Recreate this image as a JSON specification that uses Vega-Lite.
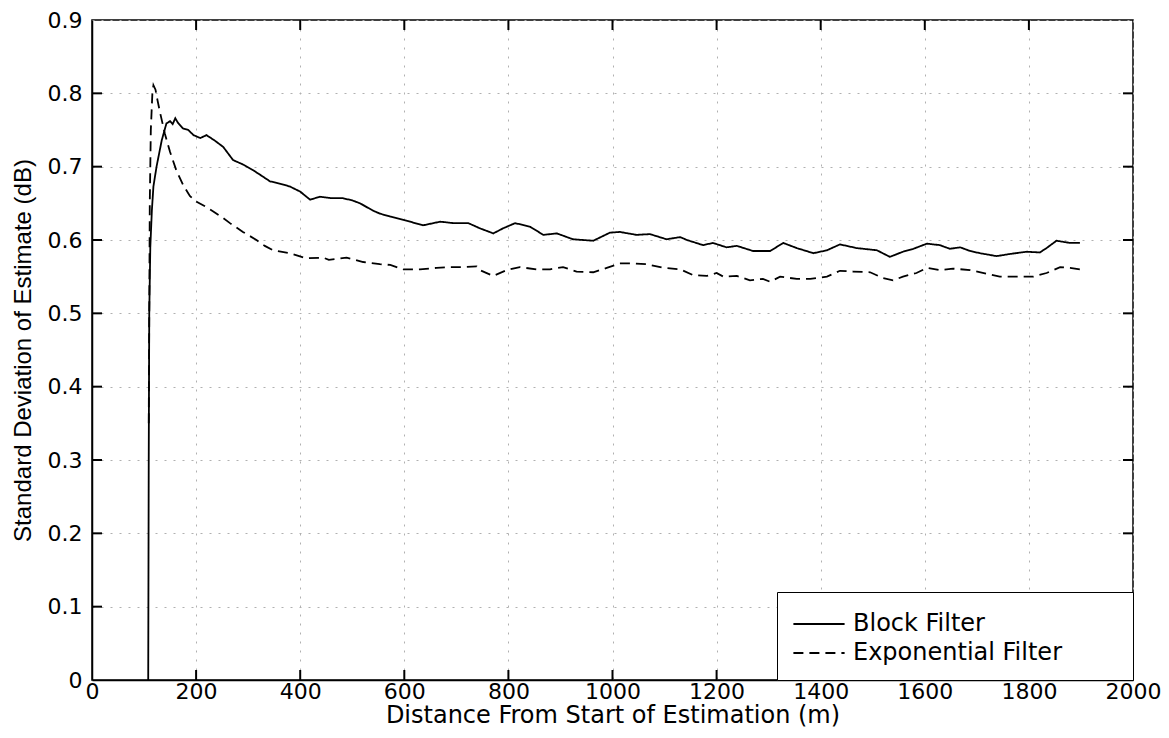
{
  "$schema": "https://vega.github.io/schema/vega-lite/v6.json",
  "width": 1041,
  "height": 660,
  "autosize": "none",
  "padding": {"left": 92, "top": 20, "right": 36, "bottom": 58},
  "background": "white",
  "datasets": {
    "xticks": [{"v":200},{"v":400},{"v":600},{"v":800},{"v":1000},{"v":1200},{"v":1400},{"v":1600},{"v":1800}],
    "yticks": [{"v":0.1},{"v":0.2},{"v":0.3},{"v":0.4},{"v":0.5},{"v":0.6},{"v":0.7},{"v":0.8}],
    "curves": [
    {"x":108,"y":0,"s":"Block Filter"},{"x":109,"y":0.3,"s":"Block Filter"},{"x":110,"y":0.5,"s":"Block Filter"},{"x":112,"y":0.59,"s":"Block Filter"},{"x":115,"y":0.64,"s":"Block Filter"},{"x":118,"y":0.673,"s":"Block Filter"},{"x":124,"y":0.70,"s":"Block Filter"},{"x":134,"y":0.736,"s":"Block Filter"},{"x":143,"y":0.759,"s":"Block Filter"},{"x":150,"y":0.762,"s":"Block Filter"},{"x":155,"y":0.758,"s":"Block Filter"},{"x":160,"y":0.766,"s":"Block Filter"},{"x":165,"y":0.760,"s":"Block Filter"},{"x":175,"y":0.752,"s":"Block Filter"},{"x":185,"y":0.750,"s":"Block Filter"},{"x":195,"y":0.743,"s":"Block Filter"},{"x":208,"y":0.739,"s":"Block Filter"},{"x":220,"y":0.743,"s":"Block Filter"},{"x":235,"y":0.736,"s":"Block Filter"},{"x":252,"y":0.727,"s":"Block Filter"},{"x":271,"y":0.709,"s":"Block Filter"},{"x":290,"y":0.703,"s":"Block Filter"},{"x":310,"y":0.695,"s":"Block Filter"},{"x":325,"y":0.688,"s":"Block Filter"},{"x":342,"y":0.680,"s":"Block Filter"},{"x":360,"y":0.677,"s":"Block Filter"},{"x":380,"y":0.673,"s":"Block Filter"},{"x":400,"y":0.666,"s":"Block Filter"},{"x":419,"y":0.655,"s":"Block Filter"},{"x":438,"y":0.659,"s":"Block Filter"},{"x":460,"y":0.657,"s":"Block Filter"},{"x":482,"y":0.657,"s":"Block Filter"},{"x":500,"y":0.654,"s":"Block Filter"},{"x":515,"y":0.650,"s":"Block Filter"},{"x":540,"y":0.640,"s":"Block Filter"},{"x":553,"y":0.636,"s":"Block Filter"},{"x":573,"y":0.632,"s":"Block Filter"},{"x":611,"y":0.625,"s":"Block Filter"},{"x":636,"y":0.620,"s":"Block Filter"},{"x":669,"y":0.625,"s":"Block Filter"},{"x":694,"y":0.623,"s":"Block Filter"},{"x":723,"y":0.623,"s":"Block Filter"},{"x":745,"y":0.616,"s":"Block Filter"},{"x":771,"y":0.609,"s":"Block Filter"},{"x":790,"y":0.616,"s":"Block Filter"},{"x":813,"y":0.623,"s":"Block Filter"},{"x":842,"y":0.618,"s":"Block Filter"},{"x":867,"y":0.607,"s":"Block Filter"},{"x":893,"y":0.609,"s":"Block Filter"},{"x":924,"y":0.601,"s":"Block Filter"},{"x":963,"y":0.599,"s":"Block Filter"},{"x":995,"y":0.610,"s":"Block Filter"},{"x":1014,"y":0.611,"s":"Block Filter"},{"x":1046,"y":0.607,"s":"Block Filter"},{"x":1072,"y":0.608,"s":"Block Filter"},{"x":1104,"y":0.601,"s":"Block Filter"},{"x":1130,"y":0.604,"s":"Block Filter"},{"x":1143,"y":0.600,"s":"Block Filter"},{"x":1174,"y":0.593,"s":"Block Filter"},{"x":1193,"y":0.596,"s":"Block Filter"},{"x":1219,"y":0.590,"s":"Block Filter"},{"x":1239,"y":0.592,"s":"Block Filter"},{"x":1270,"y":0.585,"s":"Block Filter"},{"x":1303,"y":0.585,"s":"Block Filter"},{"x":1328,"y":0.596,"s":"Block Filter"},{"x":1354,"y":0.589,"s":"Block Filter"},{"x":1386,"y":0.582,"s":"Block Filter"},{"x":1412,"y":0.586,"s":"Block Filter"},{"x":1437,"y":0.594,"s":"Block Filter"},{"x":1469,"y":0.589,"s":"Block Filter"},{"x":1508,"y":0.586,"s":"Block Filter"},{"x":1533,"y":0.577,"s":"Block Filter"},{"x":1558,"y":0.584,"s":"Block Filter"},{"x":1578,"y":0.588,"s":"Block Filter"},{"x":1604,"y":0.595,"s":"Block Filter"},{"x":1629,"y":0.593,"s":"Block Filter"},{"x":1648,"y":0.588,"s":"Block Filter"},{"x":1668,"y":0.590,"s":"Block Filter"},{"x":1687,"y":0.585,"s":"Block Filter"},{"x":1706,"y":0.582,"s":"Block Filter"},{"x":1738,"y":0.578,"s":"Block Filter"},{"x":1764,"y":0.581,"s":"Block Filter"},{"x":1796,"y":0.584,"s":"Block Filter"},{"x":1821,"y":0.583,"s":"Block Filter"},{"x":1834,"y":0.589,"s":"Block Filter"},{"x":1853,"y":0.599,"s":"Block Filter"},{"x":1879,"y":0.596,"s":"Block Filter"},{"x":1898,"y":0.596,"s":"Block Filter"},
    {"x":109,"y":0.35,"s":"Exponential Filter"},{"x":110,"y":0.5,"s":"Exponential Filter"},{"x":111,"y":0.65,"s":"Exponential Filter"},{"x":113,"y":0.75,"s":"Exponential Filter"},{"x":116,"y":0.80,"s":"Exponential Filter"},{"x":118,"y":0.811,"s":"Exponential Filter"},{"x":122,"y":0.805,"s":"Exponential Filter"},{"x":126,"y":0.79,"s":"Exponential Filter"},{"x":131,"y":0.773,"s":"Exponential Filter"},{"x":140,"y":0.745,"s":"Exponential Filter"},{"x":150,"y":0.72,"s":"Exponential Filter"},{"x":162,"y":0.695,"s":"Exponential Filter"},{"x":175,"y":0.675,"s":"Exponential Filter"},{"x":188,"y":0.66,"s":"Exponential Filter"},{"x":201,"y":0.652,"s":"Exponential Filter"},{"x":217,"y":0.646,"s":"Exponential Filter"},{"x":233,"y":0.639,"s":"Exponential Filter"},{"x":250,"y":0.631,"s":"Exponential Filter"},{"x":265,"y":0.623,"s":"Exponential Filter"},{"x":290,"y":0.611,"s":"Exponential Filter"},{"x":316,"y":0.600,"s":"Exponential Filter"},{"x":332,"y":0.592,"s":"Exponential Filter"},{"x":348,"y":0.586,"s":"Exponential Filter"},{"x":380,"y":0.582,"s":"Exponential Filter"},{"x":412,"y":0.575,"s":"Exponential Filter"},{"x":444,"y":0.576,"s":"Exponential Filter"},{"x":455,"y":0.573,"s":"Exponential Filter"},{"x":489,"y":0.576,"s":"Exponential Filter"},{"x":521,"y":0.570,"s":"Exponential Filter"},{"x":553,"y":0.567,"s":"Exponential Filter"},{"x":573,"y":0.566,"s":"Exponential Filter"},{"x":598,"y":0.560,"s":"Exponential Filter"},{"x":630,"y":0.560,"s":"Exponential Filter"},{"x":662,"y":0.562,"s":"Exponential Filter"},{"x":688,"y":0.563,"s":"Exponential Filter"},{"x":713,"y":0.563,"s":"Exponential Filter"},{"x":739,"y":0.564,"s":"Exponential Filter"},{"x":745,"y":0.559,"s":"Exponential Filter"},{"x":771,"y":0.551,"s":"Exponential Filter"},{"x":797,"y":0.559,"s":"Exponential Filter"},{"x":822,"y":0.563,"s":"Exponential Filter"},{"x":854,"y":0.560,"s":"Exponential Filter"},{"x":880,"y":0.560,"s":"Exponential Filter"},{"x":905,"y":0.563,"s":"Exponential Filter"},{"x":931,"y":0.557,"s":"Exponential Filter"},{"x":963,"y":0.556,"s":"Exponential Filter"},{"x":989,"y":0.562,"s":"Exponential Filter"},{"x":1014,"y":0.568,"s":"Exponential Filter"},{"x":1040,"y":0.568,"s":"Exponential Filter"},{"x":1066,"y":0.567,"s":"Exponential Filter"},{"x":1098,"y":0.562,"s":"Exponential Filter"},{"x":1130,"y":0.560,"s":"Exponential Filter"},{"x":1155,"y":0.552,"s":"Exponential Filter"},{"x":1181,"y":0.551,"s":"Exponential Filter"},{"x":1200,"y":0.555,"s":"Exponential Filter"},{"x":1213,"y":0.550,"s":"Exponential Filter"},{"x":1239,"y":0.551,"s":"Exponential Filter"},{"x":1264,"y":0.545,"s":"Exponential Filter"},{"x":1289,"y":0.547,"s":"Exponential Filter"},{"x":1303,"y":0.543,"s":"Exponential Filter"},{"x":1322,"y":0.550,"s":"Exponential Filter"},{"x":1354,"y":0.547,"s":"Exponential Filter"},{"x":1380,"y":0.547,"s":"Exponential Filter"},{"x":1412,"y":0.550,"s":"Exponential Filter"},{"x":1437,"y":0.558,"s":"Exponential Filter"},{"x":1462,"y":0.557,"s":"Exponential Filter"},{"x":1495,"y":0.556,"s":"Exponential Filter"},{"x":1520,"y":0.548,"s":"Exponential Filter"},{"x":1539,"y":0.545,"s":"Exponential Filter"},{"x":1558,"y":0.550,"s":"Exponential Filter"},{"x":1584,"y":0.555,"s":"Exponential Filter"},{"x":1604,"y":0.562,"s":"Exponential Filter"},{"x":1629,"y":0.559,"s":"Exponential Filter"},{"x":1654,"y":0.561,"s":"Exponential Filter"},{"x":1687,"y":0.559,"s":"Exponential Filter"},{"x":1719,"y":0.554,"s":"Exponential Filter"},{"x":1744,"y":0.550,"s":"Exponential Filter"},{"x":1777,"y":0.550,"s":"Exponential Filter"},{"x":1808,"y":0.550,"s":"Exponential Filter"},{"x":1834,"y":0.555,"s":"Exponential Filter"},{"x":1860,"y":0.563,"s":"Exponential Filter"},{"x":1879,"y":0.562,"s":"Exponential Filter"},{"x":1898,"y":0.560,"s":"Exponential Filter"}
    ]
  },
  "layer": [
    {
      "data": {"name": "xticks"},
      "mark": {"type": "rule", "color": "black", "strokeWidth": 2, "y2Offset": -10},
      "encoding": {"x": {"field": "v", "type": "quantitative"}, "y": {"datum": 0.000001}, "y2": {"datum": 0.000001}}
    },
    {
      "data": {"name": "xticks"},
      "mark": {"type": "rule", "color": "black", "strokeWidth": 2, "y2Offset": 10},
      "encoding": {"x": {"field": "v", "type": "quantitative"}, "y": {"datum": 0.9}, "y2": {"datum": 0.9}}
    },
    {
      "data": {"name": "yticks"},
      "mark": {"type": "rule", "color": "black", "strokeWidth": 2, "x2Offset": 10},
      "encoding": {"y": {"field": "v", "type": "quantitative"}, "x": {"datum": 0.001}, "x2": {"datum": 0.001}}
    },
    {
      "data": {"name": "yticks"},
      "mark": {"type": "rule", "color": "black", "strokeWidth": 2, "x2Offset": -10},
      "encoding": {"y": {"field": "v", "type": "quantitative"}, "x": {"datum": 2000}, "x2": {"datum": 2000}}
    },
    {
      "data": {"name": "curves"},
      "mark": {"type": "line", "color": "black", "strokeWidth": 1.8},
      "encoding": {
        "x": {"field": "x", "type": "quantitative", "scale": {"domain": [0, 2000], "nice": false, "zero": false},
              "axis": {"orient": "bottom", "values": [0,200,400,600,800,1000,1200,1400,1600,1800,2000], "format": "d", "title": "Distance From Start of Estimation (m)",
                       "grid": true, "ticks": false, "labelPadding": 1, "labelFlush": false, "titlePadding": 1,
                       "titleFont": "DejaVu Sans", "titleFontSize": 24}},
        "y": {"field": "y", "type": "quantitative", "scale": {"domain": [0, 0.9], "nice": false, "zero": false},
              "axis": {"orient": "left", "values": [0,0.1,0.2,0.3,0.4,0.5,0.6,0.7,0.8,0.9], "format": ".1~f", "title": "Standard Deviation of Estimate (dB)",
                       "grid": true, "ticks": false, "labelPadding": 10, "labelFlush": false, "titlePadding": 12,
                       "titleFont": "Liberation Sans", "titleFontSize": 24}},
        "strokeDash": {"field": "s", "type": "nominal",
                       "scale": {"domain": ["Block Filter", "Exponential Filter"], "range": [[1, 0], [10, 6]]},
                       "legend": {"title": null, "orient": "bottom-right", "offset": 0,
                                  "labelExpr": "datum.label + '\u2003\u2003\u00a0\u200b'"}}
      }
    }
  ],
  "config": {
    "view": {"stroke": "black", "strokeWidth": 1.5},
    "axis": {
      "domainColor": "black", "domainWidth": 1.5,
      "gridColor": "#b0b0b0", "gridDash": [2, 7], "gridWidth": 1,
      "labelFont": "DejaVu Sans", "labelFontSize": 22, "labelColor": "black",
      "titleColor": "black", "titleFontWeight": "normal"
    },
    "legend": {
      "strokeColor": "black", "fillColor": "white", "padding": 15,
      "labelFont": "DejaVu Sans", "labelFontSize": 24, "labelColor": "black", "labelLimit": 600,
      "symbolType": "M-1.6,0H1.6", "symbolSize": 1024, "symbolStrokeWidth": 1.8, "symbolStrokeColor": "black",
      "symbolOffset": 10, "labelOffset": 17, "rowPadding": 0
    }
  }
}
